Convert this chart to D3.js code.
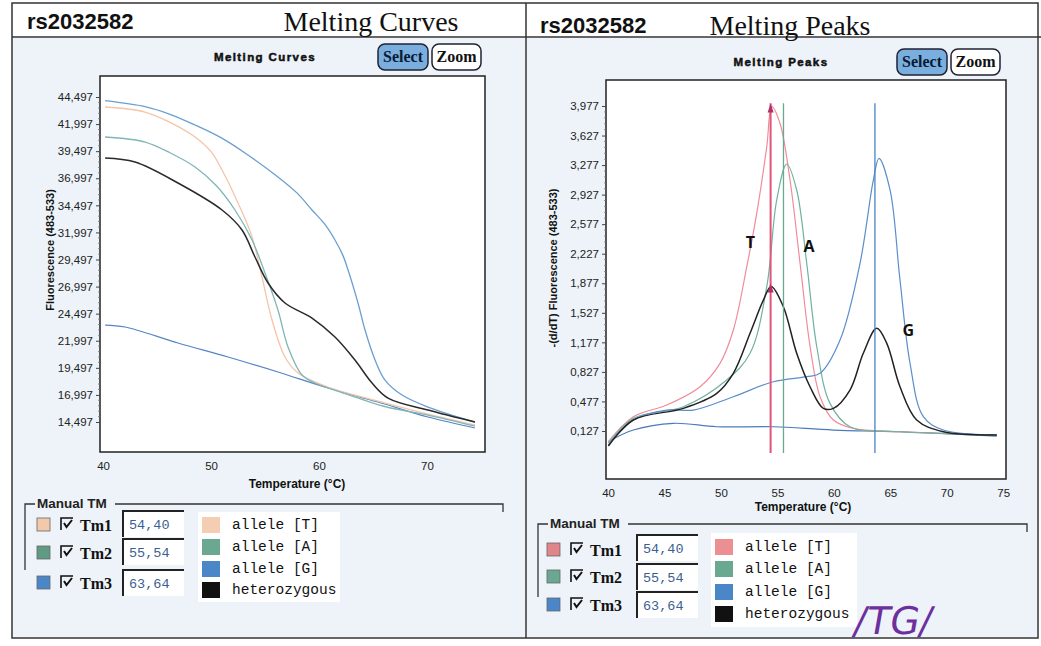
<!DOCTYPE html>
<html><head><meta charset="utf-8">
<script src="https://cdn.jsdelivr.net/npm/d3@7"></script>
<style>html,body{margin:0;padding:0;background:#fff;}svg{display:block;}</style>
</head><body>
<svg id="c" width="1041" height="646"></svg>
<script>
// ---------- DATA ----------
const assay = "rs2032582";
const curveTicks = [14497,16997,19497,21997,24497,26997,29497,31997,34497,36997,39497,41997,44497];
const curveXTicks = [40,50,60,70];
const peakTicks = [0.127,0.477,0.827,1.177,1.527,1.877,2.227,2.577,2.927,3.277,3.627,3.977];
const peakTickLabels = ["0,127","0,477","0,827","1,177","1,527","1,877","2,227","2,577","2,927","3,277","3,627","3,977"];
const peakXTicks = [40,45,50,55,60,65,70,75];
const seriesNames = ["allele [T]","allele [A]","allele [G]","heterozygous"];
const tmNames = ["Tm1","Tm2","Tm3"];
const tmValues = [54.40,55.54,63.64];
const tmLabels = ["54,40","55,54","63,64"];

// Melting curves: [temperature, fluorescence]
const curveG = [[40.19,44155],[43.89,43602],[46.2,42900],[48.52,41912],[51.0,40700],[53.15,39327],[56.2,37111],[58.0,35600],[59.35,34065],[60.5,32800],[61.48,31295],[62.2,29900],[62.69,28526],[63.61,25479],[64.26,22986],[65.19,20217],[66.11,18370],[67.69,16986],[70.09,15878],[74.44,14493]];
const curveT = [[40.19,43574],[43.89,43112],[46.2,42150],[48.52,40804],[50.0,39450],[51.02,37758],[52.5,34711],[53.8,31572],[54.72,27879],[55.65,23910],[56.85,20494],[58.06,19017],[60.83,17720],[65.46,16430],[70.09,15230],[74.44,14220]];
const curveA = [[40.19,40804],[43.89,40343],[46.2,39350],[48.52,38035],[50.5,36300],[52.22,34065],[53.8,31295],[55.0,28249],[56.2,24833],[57.13,21417],[58.43,18832],[59.63,18094],[62.5,17100],[66.0,15950],[70.09,15139],[74.44,14124]];
const curveHet = [[40.19,38865],[42.96,38496],[46.94,36557],[51.02,34065],[52.87,32218],[54.07,29726],[55.28,27325],[56.85,25479],[59.35,24094],[61.48,22340],[63.33,20217],[64.91,18094],[66.39,16709],[70.09,15601],[74.44,14493]];
const curveNTC = [[40.19,23448],[42.04,23263],[46.94,21786],[51.57,20494],[56.2,19109],[60.83,17632],[65.46,16340],[70.09,14955],[74.44,13939]];

// Melting peaks: [temperature, -dF/dT]
const peakT = [[40.03,0.0],[42.24,0.296],[45.2,0.434],[48.15,0.651],[49.92,0.928],[51.1,1.323],[52.29,2.073],[53.17,2.706],[54.06,3.495],[54.5,3.97],[55.23,3.772],[56.12,3.1],[57.01,2.113],[57.9,1.125],[58.78,0.533],[59.96,0.257],[61.73,0.158],[65.86,0.118],[74.43,0.079]];
const peakA = [[40.03,-0.019],[42.24,0.277],[46.67,0.414],[50.51,0.731],[52.58,1.047],[54.06,1.836],[54.94,2.863],[55.83,3.29],[56.71,2.982],[57.6,2.113],[58.49,1.125],[59.66,0.454],[61.43,0.177],[65.86,0.118],[74.43,0.079]];
const peakG = [[40.03,-0.04],[42.24,0.257],[45.2,0.375],[47.56,0.375],[51.1,0.533],[54.64,0.71],[57.6,0.77],[58.78,0.81],[60.55,1.204],[62.32,2.113],[63.5,3.1],[64.0,3.357],[64.98,2.982],[65.86,1.915],[66.75,0.928],[67.93,0.296],[69.7,0.138],[74.43,0.079]];
const peakHet = [[40.03,-0.051],[42.24,0.257],[46.67,0.395],[49.63,0.573],[51.1,0.81],[52.58,1.284],[53.76,1.678],[54.45,1.84],[55.53,1.599],[56.71,1.047],[57.89,0.651],[59.07,0.395],[59.96,0.395],[61.43,0.612],[62.61,1.047],[63.8,1.343],[64.69,1.165],[65.86,0.651],[67.34,0.257],[69.7,0.118],[74.43,0.079]];
const peakNTC = [[40.03,0.0],[42.24,0.138],[45.78,0.218],[49.63,0.177],[54.64,0.177],[59.96,0.138],[65.86,0.118],[74.43,0.067]];
const peakLetters = [["T",52.6,2.3],["A",57.8,2.25],["G",66.6,1.25]];

// ---------- STYLE ----------
const panelBg = "#edf3f8";
const curveColors = {G:"#6b9fcf",T:"#f3c5a9",A:"#7fb6b8",het:"#2a2a2a",ntc:"#5585c2"};
const peakColors = {T:"#ef8c9b",A:"#6fb2a2",G:"#5a8ecb",het:"#222",ntc:"#4b7bbb"};
const tmLineColors = ["#e0557a","#6aa890","#4c82c6"];
const leftSw = {tm:["#f2c9aa","#5f9a82","#4a86c8"], leg:["#f4cdb2","#6aa891","#4a86c8","#111"]};
const rightSw = {tm:["#e0868a","#6aa891","#4a86c8"], leg:["#ec8f93","#6aa891","#4a86c8","#111"]};

const svg = d3.select("#c");
const sans = "'Liberation Sans', Arial, sans-serif";
const serif = "'Liberation Serif', 'Times New Roman', serif";
const mono = "'Liberation Mono', 'Courier New', monospace";

// frame
svg.append("rect").attr("x",13).attr("y",38).attr("width",512).attr("height",599).attr("fill",panelBg);
svg.append("rect").attr("x",527).attr("y",38).attr("width",510).attr("height",599).attr("fill",panelBg);
svg.append("rect").attr("x",12).attr("y",3).attr("width",1026).attr("height",635).attr("fill","none").attr("stroke","#333").attr("stroke-width",1.5);
svg.append("line").attr("x1",12).attr("x2",1041).attr("y1",37).attr("y2",37).attr("stroke","#333").attr("stroke-width",1.5);
svg.append("line").attr("x1",526).attr("x2",526).attr("y1",3).attr("y2",638).attr("stroke","#333").attr("stroke-width",1.5);

// headers
svg.append("text").attr("x",27).attr("y",29).attr("font-family",sans).attr("font-weight","bold").attr("font-size",22).attr("fill","#111").text(assay);
svg.append("text").attr("x",371).attr("y",31).attr("text-anchor","middle").attr("font-family",serif).attr("font-size",28).attr("fill","#111").text("Melting Curves");
svg.append("text").attr("x",540).attr("y",33).attr("font-family",sans).attr("font-weight","bold").attr("font-size",22).attr("fill","#111").text(assay);
svg.append("text").attr("x",790).attr("y",35).attr("text-anchor","middle").attr("font-family",serif).attr("font-size",28).attr("fill","#111").text("Melting Peaks");

function buttons(cx, subY, title, selX, zoomX, bY){
  svg.append("text").attr("x",cx).attr("y",subY).attr("text-anchor","middle").attr("font-family",sans).attr("font-weight","bold").attr("font-size",11.5).attr("letter-spacing",1.4).attr("fill","#111").attr("stroke","#111").attr("stroke-width",0.5).text(title);
  svg.append("rect").attr("x",selX).attr("y",bY).attr("width",50).attr("height",26).attr("rx",7).attr("fill","#79aedf").attr("stroke","#223").attr("stroke-width",1.5);
  svg.append("text").attr("x",selX+25).attr("y",bY+18).attr("text-anchor","middle").attr("font-family",serif).attr("font-weight","bold").attr("font-size",16).attr("fill","#0b1a33").text("Select");
  svg.append("rect").attr("x",zoomX).attr("y",bY).attr("width",49).attr("height",26).attr("rx",7).attr("fill","#fff").attr("stroke","#223").attr("stroke-width",1.5);
  svg.append("text").attr("x",zoomX+24.5).attr("y",bY+18).attr("text-anchor","middle").attr("font-family",serif).attr("font-weight","bold").attr("font-size",16).attr("fill","#111").text("Zoom");
}
buttons(265,61,"Melting Curves",378,432,44);
buttons(781,66,"Melting Peaks",897,951,49);

function minorTicks(scale, ticks, x0){
  const g = svg.append("g");
  for(let i=0;i<ticks.length-1;i++){
    for(let k=1;k<5;k++){
      const v = ticks[i]+(ticks[i+1]-ticks[i])*k/5;
      g.append("line").attr("x1",x0-2).attr("x2",x0).attr("y1",scale(v)).attr("y2",scale(v)).attr("stroke","#777").attr("stroke-width",0.8);
    }
  }
}

// ---------- LEFT PLOT ----------
const L = {x0:100,x1:485,y0:76,y1:452};
const xL = d3.scaleLinear().domain([39.72,75.37]).range([L.x0,L.x1]);
const yL = d3.scaleLinear().domain([11727,46436]).range([L.y1,L.y0]);
svg.append("rect").attr("x",L.x0).attr("y",L.y0).attr("width",L.x1-L.x0).attr("height",L.y1-L.y0).attr("fill","#fff").attr("stroke","#222").attr("stroke-width",1.5);
const gyL = svg.append("g").attr("transform",`translate(${L.x0},0)`).call(d3.axisLeft(yL).tickValues(curveTicks).tickFormat(d3.format(",")).tickSize(4).tickPadding(3));
const gxL = svg.append("g").attr("transform",`translate(0,${L.y1})`).call(d3.axisBottom(xL).tickValues(curveXTicks).tickFormat(d3.format("d")).tickSize(0).tickPadding(10));
[gyL,gxL].forEach(g=>{g.select(".domain").remove();g.selectAll("text").attr("font-family",sans).attr("font-size",11.5).attr("fill","#222");g.selectAll("line").attr("stroke","#444");});
minorTicks(yL,curveTicks,L.x0);
svg.append("text").attr("x",297).attr("y",488).attr("text-anchor","middle").attr("font-family",sans).attr("font-weight","bold").attr("font-size",12).attr("fill","#111").text("Temperature (°C)");
svg.append("text").attr("transform","translate(54,250) rotate(-90)").attr("text-anchor","middle").attr("font-family",sans).attr("font-weight","bold").attr("font-size",11).attr("fill","#111").text("Fluorescence (483-533)");

const lineL = d3.line().x(d=>xL(d[0])).y(d=>yL(d[1])).curve(d3.curveCatmullRom.alpha(0.5));
const gL = svg.append("g");
[[curveNTC,curveColors.ntc,1.2],[curveT,curveColors.T,1.3],[curveA,curveColors.A,1.3],[curveG,curveColors.G,1.3],[curveHet,curveColors.het,1.5]].forEach(([d,c,w])=>{
  gL.append("path").datum(d).attr("d",lineL).attr("fill","none").attr("stroke",c).attr("stroke-width",w);
});

// ---------- RIGHT PLOT ----------
const R = {x0:606,x1:1006,y0:80,y1:479};
const xR = d3.scaleLinear().domain([39.82,75.25]).range([R.x0,R.x1]);
const yR = d3.scaleLinear().domain([-0.442,4.285]).range([R.y1,R.y0]);
svg.append("rect").attr("x",R.x0).attr("y",R.y0).attr("width",R.x1-R.x0).attr("height",R.y1-R.y0).attr("fill","#fff").attr("stroke","#222").attr("stroke-width",1.5);
const gyR = svg.append("g").attr("transform",`translate(${R.x0},0)`).call(d3.axisLeft(yR).tickValues(peakTicks).tickFormat((d,i)=>peakTickLabels[i]).tickSize(4).tickPadding(3));
const gxR = svg.append("g").attr("transform",`translate(0,${R.y1})`).call(d3.axisBottom(xR).tickValues(peakXTicks).tickFormat(d3.format("d")).tickSize(0).tickPadding(10));
[gyR,gxR].forEach(g=>{g.select(".domain").remove();g.selectAll("text").attr("font-family",sans).attr("font-size",11.5).attr("fill","#222");g.selectAll("line").attr("stroke","#444");});
minorTicks(yR,peakTicks,R.x0);
svg.append("text").attr("x",803).attr("y",511).attr("text-anchor","middle").attr("font-family",sans).attr("font-weight","bold").attr("font-size",12).attr("fill","#111").text("Temperature (°C)");
svg.append("text").attr("transform","translate(557,268) rotate(-90)").attr("text-anchor","middle").attr("font-family",sans).attr("font-weight","bold").attr("font-size",11).attr("fill","#111").text("-(d/dT) Fluorescence (483-533)");

const lineR = d3.line().x(d=>xR(d[0])).y(d=>yR(d[1])).curve(d3.curveCatmullRom.alpha(0.5));
const gR = svg.append("g");
[[peakNTC,peakColors.ntc,1.2],[peakT,peakColors.T,1.2],[peakA,peakColors.A,1.2],[peakG,peakColors.G,1.2],[peakHet,peakColors.het,1.5]].forEach(([d,c,w])=>{
  gR.append("path").datum(d).attr("d",lineR).attr("fill","none").attr("stroke",c).attr("stroke-width",w);
});
// Tm lines
tmValues.forEach((t,i)=>{
  gR.append("line").attr("x1",xR(t)).attr("x2",xR(t)).attr("y1",yR(4.01)).attr("y2",yR(-0.134)).attr("stroke",tmLineColors[i]).attr("stroke-width",i===0?2:1.3);
});
// markers on Tm1 line at peaks
[[tmValues[0],3.97],[tmValues[0],1.84]].forEach(([t,v])=>{
  const px=xR(t), py=yR(v);
  gR.append("path").attr("d",`M${px-3},${py+6}L${px},${py-3}L${px+3},${py+6}Z`).attr("fill","#b0306a");
});
peakLetters.forEach(([s,t,v])=>{
  gR.append("text").attr("x",xR(t)).attr("y",yR(v)).attr("text-anchor","middle").attr("font-family","'Open Sans', sans-serif").attr("font-weight","bold").attr("font-size",16).attr("fill","#111").text(s);
});

// ---------- LEGENDS ----------
function checkbox(x,y){
  svg.append("path").attr("d",`M${x},${y+12}V${y}H${x+12}`).attr("fill","none").attr("stroke","#111").attr("stroke-width",1.6);
  svg.append("path").attr("d",`M${x+3},${y+5}L${x+5.5},${y+9}L${x+11},${y+2}`).attr("fill","none").attr("stroke","#111").attr("stroke-width",2);
}
function legend(o){
  svg.append("path").attr("d",`M${o.fx0},${o.fy1}V${o.fy0}H${o.tx-2}M${o.tx+78},${o.fy0}H${o.fx1}V${o.fy0+8}`).attr("fill","none").attr("stroke","#333").attr("stroke-width",1.3);
  svg.append("text").attr("x",o.tx).attr("y",o.fy0+4).attr("font-family",sans).attr("font-weight","bold").attr("font-size",13.5).attr("fill","#222").text("Manual TM");
  tmNames.forEach((n,i)=>{
    const cy=o.rows[i];
    svg.append("rect").attr("x",o.swx).attr("y",cy-7).attr("width",13).attr("height",13).attr("fill",o.sw.tm[i]).attr("stroke","#666").attr("stroke-width",0.8);
    checkbox(o.swx+24,cy-7);
    svg.append("text").attr("x",o.swx+43).attr("y",cy+6).attr("font-family",serif).attr("font-weight","bold").attr("font-size",16).attr("fill","#111").text(n);
    const bx=o.boxx, by=o.boxy[i];
    svg.append("rect").attr("x",bx).attr("y",by).attr("width",61).attr("height",26).attr("fill","#fff");
    svg.append("path").attr("d",`M${bx},${by+26}V${by}H${bx+61}`).attr("fill","none").attr("stroke","#222").attr("stroke-width",2);
    svg.append("text").attr("x",bx+6).attr("y",by+18).attr("font-family",mono).attr("font-size",13.5).attr("fill","#3c5f92").text(tmLabels[i]);
  });
  svg.append("rect").attr("x",o.lx-4).attr("y",o.ly0).attr("width",o.lw).attr("height",o.lh).attr("fill","#fff");
  seriesNames.forEach((n,i)=>{
    const y=o.legRows[i];
    svg.append("rect").attr("x",o.lx).attr("y",y).attr("width",18).attr("height",16).attr("fill",o.sw.leg[i]);
    svg.append("text").attr("x",o.lx+30).attr("y",y+12).attr("font-family",mono).attr("font-size",14.5).attr("fill","#111").text(n);
  });
}
legend({fx0:25,fx1:503,fy0:504,fy1:570,tx:37,swx:37,rows:[525,553,583],boxx:123,boxy:[511,539,570],
  lx:202,ly0:512,lw:142,lh:90,legRows:[517,539,561,582],sw:leftSw});
legend({fx0:538,fx1:1027,fy0:524,fy1:597,tx:550,swx:547,rows:[550,577,605],boxx:637,boxy:[535,564,592],
  lx:715,ly0:533,lw:146,lh:94,legRows:[539,561,584,606],sw:rightSw});

// handwritten annotation
svg.append("text").attr("x",0).attr("y",0).attr("transform","translate(852,634) skewX(-10)").attr("font-family","'DejaVu Sans', sans-serif").attr("font-size",38).attr("fill","#6e2f9e").text("/TG/");
</script>
</body></html>
